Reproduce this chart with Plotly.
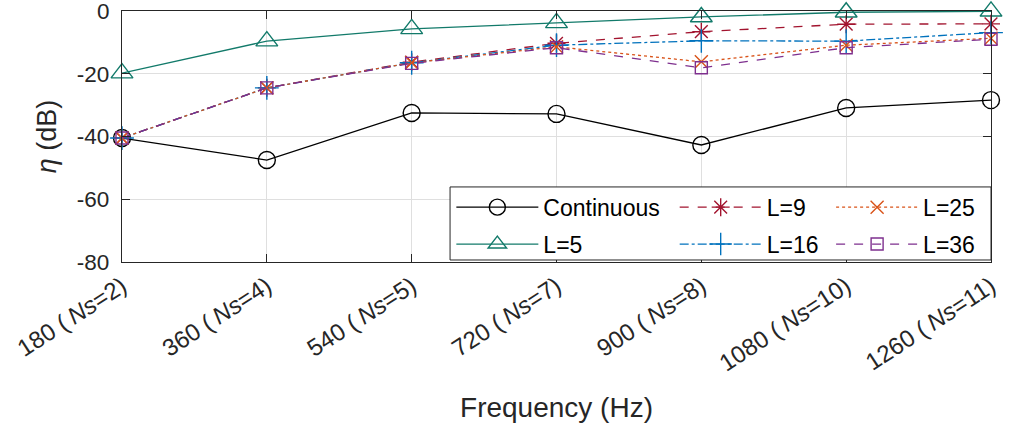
import plotly.graph_objects as go

# Frequency points (Hz) and the matching number of sources
freqs = [180, 360, 540, 720, 900, 1080, 1260]
ns_counts = [2, 4, 5, 7, 8, 10, 11]
x_tick_labels = [f"{f} (\u2009<i>Ns</i>={n})" for f, n in zip(freqs, ns_counts)]
y_tick_values = [-80, -60, -40, -20, 0]
y_tick_labels = ["-80", "-60", "-40", "-20", "0"]

# Efficiency eta (dB) per configuration
eta_continuous = [-40.5, -47.5, -32.5, -32.8, -42.7, -30.9, -28.4]
eta_l5 = [-19.8, -9.6, -5.7, -3.8, -1.9, -0.4, -0.1]
eta_l9 = [-40.5, -24.5, -16.3, -10.3, -6.6, -4.2, -4.1]
eta_l16 = [-40.5, -24.5, -16.5, -10.9, -9.5, -9.6, -6.9]
eta_l25 = [-40.5, -24.5, -16.5, -11.4, -16.2, -10.9, -8.7]
eta_l36 = [-40.5, -24.5, -16.7, -11.7, -18.1, -11.7, -9.0]

FONT = "Liberation Sans, Arial, sans-serif"
INK = "#262626"

# name, values, colour, dash, marker symbol, marker size, legend column
series = [
    ("Continuous", eta_continuous, "#000000", "solid", "circle-open", 17, "legend"),
    ("L=5", eta_l5, "#127A6A", "solid", "triangle-up-open", 19, "legend"),
    ("L=9", eta_l9, "#A2142F", "dash", "asterisk-open", 15, "legend2"),
    ("L=16", eta_l16, "#0072BD", "dashdot", "cross-thin-open", 17, "legend2"),
    ("L=25", eta_l25, "#D95319", "dot", "x-thin-open", 13, "legend3"),
    ("L=36", eta_l36, "#7E2F8E", "dash", "square-open", 12, "legend3"),
]

fig = go.Figure()
for name, vals, color, dash, symbol, size, leg in series:
    fig.add_trace(go.Scatter(
        x=freqs, y=vals, name=name, mode="lines+markers",
        line=dict(color=color, width=1.3, dash=dash),
        marker=dict(symbol=symbol, size=size, color=color,
                    line=dict(color=color, width=1.4)),
        cliponaxis=False, legend=leg, legendgroup=name,
    ))


def legend_column(x):
    return dict(
        orientation="v", x=x, y=0.304, xanchor="left", yanchor="top",
        bgcolor="rgba(0,0,0,0)", borderwidth=0,
        font=dict(family=FONT, size=23, color="#000000"),
        itemwidth=82, tracegroupgap=4,
    )


x_tick_font = dict(family=FONT, size=24, color=INK)
y_tick_font = dict(family=FONT, size=22.5, color=INK)

fig.update_layout(
    width=1016, height=429,
    margin=dict(l=122, r=25, t=11, b=167),
    paper_bgcolor="white", plot_bgcolor="white",
    font=dict(family=FONT, size=24, color=INK),
    showlegend=True,
    legend=legend_column(0.379),
    legend2=legend_column(0.636),
    legend3=legend_column(0.816),
    shapes=[dict(
        type="rect", xref="paper", yref="paper",
        x0=0.3775, x1=1.0, y0=0.008, y1=0.299,
        fillcolor="white", line=dict(color=INK, width=1), layer="above",
    )],
)

fig.update_xaxes(
    range=[180, 1260], tickvals=freqs, ticktext=x_tick_labels, tickangle=-33,
    showgrid=True, gridcolor="#DFDFDF", gridwidth=1,
    showline=True, linecolor=INK, linewidth=1.2, mirror="ticks",
    ticks="inside", ticklen=8, tickcolor=INK, automargin=False,
    zeroline=False, tickfont=x_tick_font, ticklabelstandoff=0,
    title=dict(text="Frequency (Hz)", font=dict(family=FONT, size=28, color=INK), standoff=22),
)
fig.update_yaxes(
    range=[-80, 0], tickvals=y_tick_values, ticktext=y_tick_labels,
    showgrid=True, gridcolor="#DFDFDF", gridwidth=1,
    showline=True, linecolor=INK, linewidth=1.2, mirror="ticks",
    ticks="inside", ticklen=8, tickcolor=INK, automargin=False,
    zeroline=False, tickfont=y_tick_font, ticklabelstandoff=7,
    ticklabeloverflow="allow",
    title=dict(text="<i>η</i> (dB)", font=dict(family=FONT, size=27, color=INK), standoff=12),
)

fig.write_html("out.html")
